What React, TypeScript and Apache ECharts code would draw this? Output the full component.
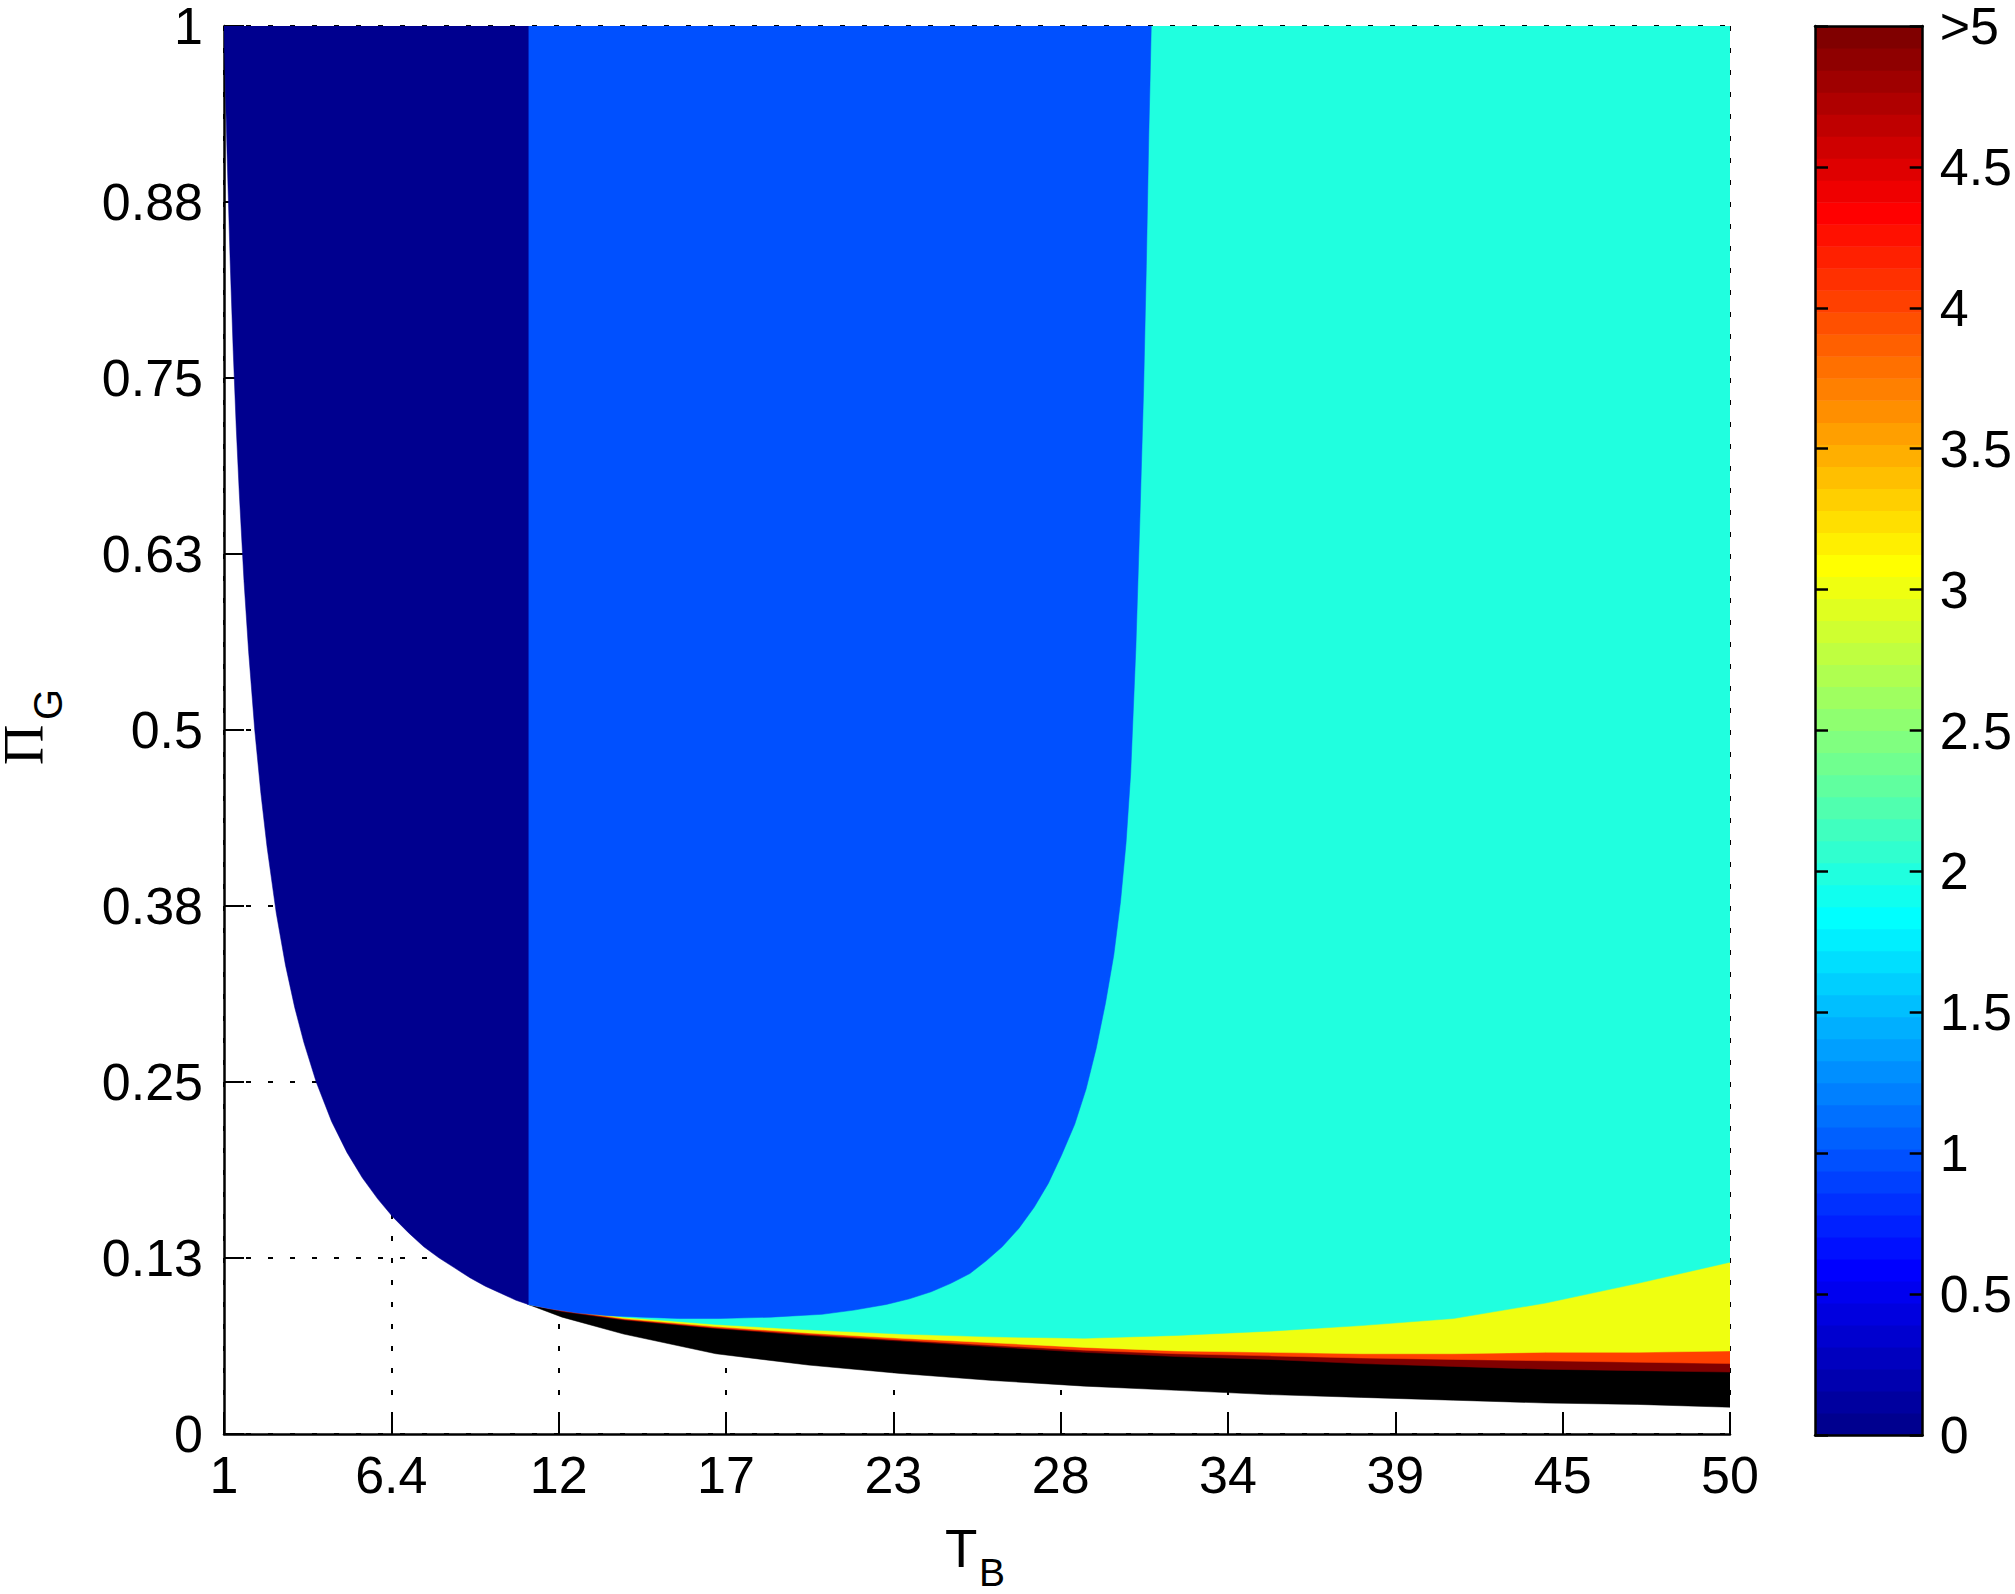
import React, { useEffect, useRef } from "react";
import * as echarts from "echarts";

// ---- Axis ticks ----
const xTickValues = [1, 6.444, 11.889, 17.333, 22.778, 28.222, 33.667, 39.111, 44.556, 50];
const xTickLabels = ["1", "6.4", "12", "17", "23", "28", "34", "39", "45", "50"];
const yTickValues = [0, 0.125, 0.25, 0.375, 0.5, 0.625, 0.75, 0.875, 1];
const yTickLabels = ["0", "0.13", "0.25", "0.38", "0.5", "0.63", "0.75", "0.88", "1"];
const cbTickValues = [0, 0.5, 1, 1.5, 2, 2.5, 3, 3.5, 4, 4.5, 5];
const cbTickLabels = ["0", "0.5", "1", "1.5", "2", "2.5", "3", "3.5", "4", "4.5", ">5"];

// ---- Region values on the 0..5 colour scale ----
const valueNavy = 0;
const valueBlue = 1;
const valueTurquoise = 2;
const valueYellow = 3;
const valueOrange = 4;
const valueDarkRed = 5;

// Navy region (value 0): left boundary, T_B from 1 to the split line at T_B ≈ 10.9
const navyEdgeT = [1, 1.05, 1.1, 1.2, 1.3, 1.4, 1.5, 1.65, 1.8, 2, 2.2, 2.4, 2.7, 3, 3.3, 3.6, 4, 4.5, 5, 5.5, 6, 6.5, 7, 7.5, 8, 8.5, 9, 9.5, 10, 10.5, 10.9];
const navyEdgePi = [1, 0.952, 0.909, 0.833, 0.769, 0.714, 0.667, 0.606, 0.556, 0.5, 0.455, 0.417, 0.37, 0.333, 0.303, 0.278, 0.25, 0.222, 0.2, 0.182, 0.167, 0.154, 0.143, 0.133, 0.125, 0.118, 0.111, 0.105, 0.1, 0.095, 0.092];

// Blue region (value 1): right / lower boundary, from the top edge round to the corner
const blueEdgeT = [31.17, 31.13, 31.09, 31.01, 30.92, 30.8, 30.67, 30.5, 30.35, 30.17, 29.95, 29.68, 29.38, 29.05, 28.68, 28.25, 27.82, 27.36, 26.86, 26.32, 25.8, 25.27, 24.65, 24.01, 23.3, 22.55, 21.5, 20.46, 18.8, 17.11, 15.8, 14.6, 13.5, 12.51, 11.6, 10.88];
const blueEdgePi = [1, 0.96, 0.923, 0.83, 0.741, 0.65, 0.559, 0.469, 0.42, 0.378, 0.34, 0.306, 0.274, 0.245, 0.22, 0.198, 0.178, 0.161, 0.146, 0.133, 0.123, 0.114, 0.107, 0.101, 0.096, 0.092, 0.088, 0.085, 0.083, 0.082, 0.082, 0.083, 0.084, 0.086, 0.089, 0.092];

// Lower bands, sampled along T_B
const bandT = [10.9, 12, 14, 17, 20, 23, 26, 29, 32, 35, 38, 41, 44, 47, 50];
const feasibleBottom = [0.092, 0.083, 0.071, 0.057, 0.049, 0.043, 0.038, 0.034, 0.031, 0.028, 0.026, 0.024, 0.022, 0.021, 0.019];
const blackTop = [0.092, 0.087, 0.081, 0.075, 0.07, 0.066, 0.062, 0.058, 0.055, 0.053, 0.05, 0.048, 0.046, 0.045, 0.044];
const darkRedTop = [0.092, 0.0875, 0.0815, 0.0755, 0.0708, 0.0668, 0.063, 0.0595, 0.057, 0.0555, 0.054, 0.053, 0.052, 0.051, 0.05];
const orangeTop = [0.092, 0.088, 0.082, 0.0763, 0.0718, 0.068, 0.0648, 0.0615, 0.059, 0.058, 0.057, 0.057, 0.058, 0.058, 0.059];
const yellowTop = [0.092, 0.0885, 0.083, 0.0778, 0.074, 0.071, 0.069, 0.068, 0.07, 0.073, 0.077, 0.082, 0.093, 0.107, 0.122];

const cbMin = 0;
const cbMax = 5;
const cbLevels = 64;

// MATLAB-style jet colormap
function jetColors(m: number): string[] {
  const n = Math.ceil(m / 4);
  const u: number[] = [];
  for (let i = 1; i <= n; i++) u.push(i / n);
  for (let i = 1; i < n; i++) u.push(1);
  for (let i = n; i >= 1; i--) u.push(i / n);
  const off = Math.ceil(n / 2) - (m % 4 === 1 ? 1 : 0);
  const r = new Array(m).fill(0);
  const g = new Array(m).fill(0);
  const b = new Array(m).fill(0);
  for (let k = 0; k < u.length; k++) {
    const gi = off + k + 1;
    const ri = gi + n;
    const bi = gi - n;
    if (gi >= 1 && gi <= m) g[gi - 1] = u[k];
    if (ri >= 1 && ri <= m) r[ri - 1] = u[k];
    if (bi >= 1 && bi <= m) b[bi - 1] = u[k];
  }
  const hex = (v: number) => Math.round(v * 255).toString(16).padStart(2, "0");
  return r.map((_, i) => "#" + hex(r[i]) + hex(g[i]) + hex(b[i]));
}

const JET = jetColors(cbLevels);
const colorOf = (v: number) =>
  JET[Math.min(cbLevels - 1, Math.floor(((v - cbMin) / (cbMax - cbMin)) * cbLevels))];

const FONT = '"Liberation Sans", Arial, sans-serif';

function labelFrom(values: number[], labels: string[]) {
  return (v: number) => {
    const i = values.findIndex((t) => Math.abs(t - v) < 1e-6);
    return i >= 0 ? labels[i] : "";
  };
}

export default function App() {
  const ref = useRef<HTMLDivElement>(null);

  useEffect(() => {
    if (!ref.current) return;
    const chart = echarts.init(ref.current, undefined, { renderer: "svg" });

    const zip = (xs: number[], ys: number[]) => xs.map((x, i) => [x, ys[i]]);
    const tEnd = bandT[bandT.length - 1];
    const layer = (bottom: number[]) => [...zip(bandT, bottom), [tEnd, 1], [bandT[0], 1]];

    const layers: { pts: number[][]; color: string }[] = [
      { pts: layer(feasibleBottom), color: "#000000" },
      { pts: layer(blackTop), color: colorOf(valueDarkRed) },
      { pts: layer(darkRedTop), color: colorOf(valueOrange) },
      { pts: layer(orangeTop), color: colorOf(valueYellow) },
      { pts: layer(yellowTop), color: colorOf(valueTurquoise) },
      { pts: [[blueEdgeT[blueEdgeT.length - 1], 1], ...zip(blueEdgeT, blueEdgePi)], color: colorOf(valueBlue) },
      { pts: [...zip(navyEdgeT, navyEdgePi), [navyEdgeT[navyEdgeT.length - 1], 1]], color: colorOf(valueNavy) },
    ];

    const bands: number[][] = [];
    for (let i = 0; i < cbLevels; i++) {
      bands.push([cbMin + ((cbMax - cbMin) * i) / cbLevels, cbMin + ((cbMax - cbMin) * (i + 1)) / cbLevels, i]);
    }

    const gridLine = { show: true, lineStyle: { color: "#000", width: 2, type: [5, 17] as any } };
    const axisFont = { fontSize: 52, lineHeight: 38, fontFamily: FONT, color: "#000" };
    const textStyle = (font: string, lh: number) => ({
      font,
      fill: "#000",
      lineHeight: lh,
      align: "left",
      verticalAlign: "middle",
      textAlign: "left",
      textVerticalAlign: "middle",
    });

    chart.setOption({
      animation: false,
      backgroundColor: "#ffffff",
      grid: [
        { left: 224, top: 19, width: 1506, height: 1415, show: false },
        { left: 1815, top: 19, width: 110, height: 1416, show: false },
      ],
      xAxis: [
        {
          gridIndex: 0,
          type: "value",
          min: 1,
          max: 50,
          position: "bottom",
          axisLine: { show: true, onZero: false, lineStyle: { color: "#000", width: 2.5 } },
          axisTick: { show: true, inside: true, length: 20, customValues: xTickValues, lineStyle: { color: "#000", width: 2 } },
          axisLabel: { show: true, customValues: xTickValues, formatter: labelFrom(xTickValues, xTickLabels), margin: 22, ...axisFont },
          splitLine: gridLine,
        },
        {
          gridIndex: 1, type: "value", min: 0, max: 1, position: "bottom", z: 5,
          axisLine: { show: true, onZero: false, lineStyle: { color: "#000", width: 2.5 } },
          axisTick: { show: false }, axisLabel: { show: false }, splitLine: { show: false },
        },
        {
          gridIndex: 1, type: "value", min: 0, max: 1, position: "top", z: 5,
          axisLine: { show: true, onZero: false, lineStyle: { color: "#000", width: 2.5 } },
          axisTick: { show: false }, axisLabel: { show: false }, splitLine: { show: false },
        },
      ],
      yAxis: [
        {
          gridIndex: 0,
          type: "value",
          min: 0,
          max: 1,
          position: "left",
          axisLine: { show: true, onZero: false, lineStyle: { color: "#000", width: 2.5 } },
          axisTick: { show: true, inside: true, length: 20, customValues: yTickValues, lineStyle: { color: "#000", width: 2 } },
          axisLabel: { show: true, customValues: yTickValues, formatter: labelFrom(yTickValues, yTickLabels), margin: 21, ...axisFont },
          splitLine: gridLine,
        },
        {
          gridIndex: 1, type: "value", min: cbMin, max: cbMax, interval: 0.5, position: "left", z: 5,
          axisLine: { show: true, onZero: false, lineStyle: { color: "#000", width: 2.5 } },
          axisTick: { show: true, inside: true, length: 13, lineStyle: { color: "#000", width: 2.5 } },
          axisLabel: { show: false }, splitLine: { show: false },
        },
        {
          gridIndex: 1, type: "value", min: cbMin, max: cbMax, interval: 0.5, position: "right", z: 5,
          axisLine: { show: true, onZero: false, lineStyle: { color: "#000", width: 2.5 } },
          axisTick: { show: true, inside: true, length: 13, lineStyle: { color: "#000", width: 2.5 } },
          axisLabel: { show: true, margin: 17, formatter: labelFrom(cbTickValues, cbTickLabels), ...axisFont },
          splitLine: { show: false },
        },
      ],
      series: [
        {
          type: "custom",
          name: "regions",
          xAxisIndex: 0,
          yAxisIndex: 0,
          clip: true,
          data: layers.map(() => [1, 0]),
          renderItem: (params: any, api: any) => {
            const l = layers[params.dataIndex];
            return {
              type: "polygon",
              shape: { points: l.pts.map((p) => api.coord(p)) },
              style: { fill: l.color, stroke: l.color, lineWidth: 0.5 },
            };
          },
        },
        {
          type: "custom",
          name: "colorbar",
          xAxisIndex: 1,
          yAxisIndex: 1,
          data: bands,
          renderItem: (params: any, api: any) => {
            const lo = api.value(0);
            const hi = api.value(1);
            const idx = api.value(2);
            const p0 = api.coord([0, lo]);
            const p1 = api.coord([1, hi]);
            return {
              type: "rect",
              shape: { x: p0[0], y: p1[1], width: p1[0] - p0[0], height: p0[1] - p1[1] + 0.6 },
              style: { fill: JET[idx] },
            };
          },
        },
      ],
      graphic: [
        {
          type: "group",
          x: 24,
          y: 729,
          rotation: Math.PI / 2,
          children: [
            { type: "text", x: -36, y: 0, style: { text: "Π", ...textStyle('56px "Liberation Serif", serif', 40) } },
            { type: "text", x: 9, y: 24, style: { text: "G", ...textStyle('40px "Liberation Sans", sans-serif', 30) } },
          ],
        },
        { type: "text", x: 945, y: 1548, style: { text: "T", ...textStyle('53px "Liberation Sans", sans-serif', 40) } },
        { type: "text", x: 979, y: 1572, style: { text: "B", ...textStyle('39px "Liberation Sans", sans-serif', 30) } },
      ],
    });

    return () => chart.dispose();
  }, []);

  return <div ref={ref} style={{ position: "fixed", left: 0, top: 0, width: 2015, height: 1594 }} />;
}
